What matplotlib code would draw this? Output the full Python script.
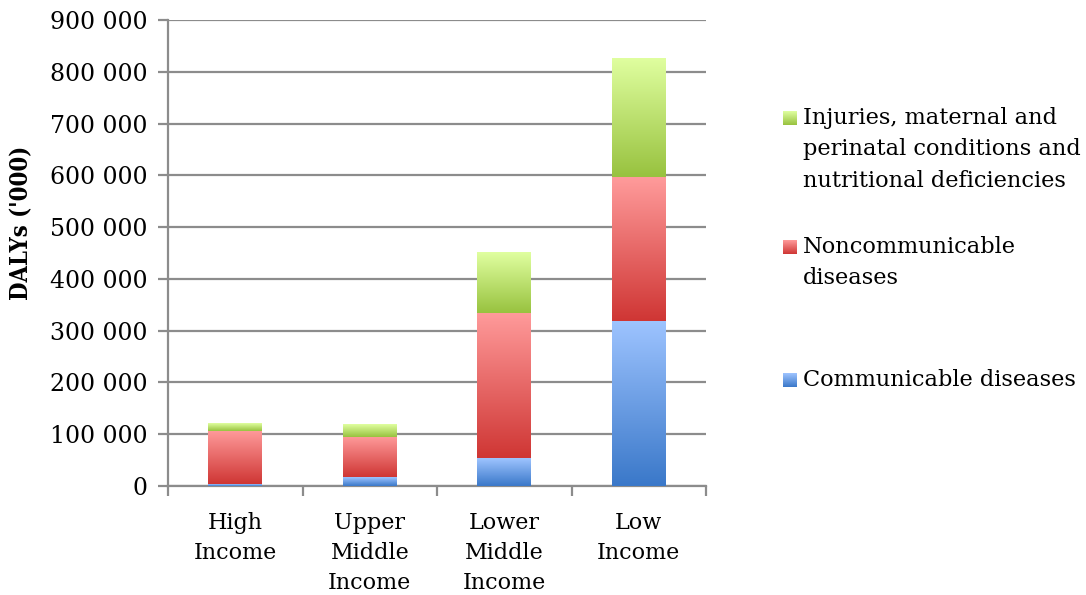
import numpy as np
import matplotlib
matplotlib.use("Agg")
import matplotlib.pyplot as plt
from matplotlib.colors import LinearSegmentedColormap
from matplotlib.ticker import FuncFormatter

# DALYs ('000) by income group
categories = ["High\nIncome", "Upper\nMiddle\nIncome", "Lower\nMiddle\nIncome", "Low\nIncome"]
communicable = [3000, 17000, 54000, 319000]
noncommunicable = [103000, 78000, 281000, 277000]
injuries = [15000, 25000, 116000, 231000]

series_labels = ["Communicable diseases",
                 "Noncommunicable\ndiseases",
                 "Injuries, maternal and\nperinatal conditions and\nnutritional deficiencies"]
# (bottom colour, top colour) of each segment's vertical gradient
gradients = [("#3a78c9", "#9ec4ff"),
             ("#cf3634", "#ff9b9b"),
             ("#98c23f", "#e0ffa0")]

FONT = "DejaVu Serif"
plt.rcParams["font.family"] = FONT

fig = plt.figure(figsize=(10.86, 5.95), dpi=100)
ax = fig.add_axes([168 / 1086, 1 - 486 / 595, (706 - 168) / 1086, (486 - 20) / 595])

x = np.arange(len(categories))
width = 0.4
grid_col = "#8c8c8c"

ax.set_ylim(0, 900000)
ax.set_yticks(np.arange(0, 900001, 100000))
ax.yaxis.set_major_formatter(FuncFormatter(lambda v, p: f"{int(v):,}".replace(",", " ")))
ax.grid(axis="y", color=grid_col, linewidth=1.6, zorder=0)
ax.set_axisbelow(True)

bottom = np.zeros(len(categories))
for vals, (c0, c1) in zip([communicable, noncommunicable, injuries], gradients):
    bars = ax.bar(x, vals, width, bottom=bottom, color="none", edgecolor="none", zorder=2)
    cmap = LinearSegmentedColormap.from_list("g", [c0, c1])
    grad = np.linspace(0, 1, 256).reshape(-1, 1)
    for b in bars:
        x0, y0 = b.get_x(), b.get_y()
        w, h = b.get_width(), b.get_height()
        im = ax.imshow(grad, cmap=cmap, origin="lower", aspect="auto",
                       extent=(x0, x0 + w, y0, y0 + h), zorder=3, interpolation="bilinear")
        im.set_clip_path(b)
    bottom += np.array(vals)
ax.set_xlim(-0.5, len(categories) - 0.5)
ax.set_ylim(0, 900000)

ax.set_xticks(x)
ax.set_xticklabels(categories, fontsize=16, linespacing=1.47)
ax.tick_params(axis="x", length=0, pad=19)
# category boundary ticks below the axis
ax.set_xticks(np.arange(-0.5, len(categories)), minor=True)
ax.tick_params(axis="x", which="minor", length=7, width=1.6, color=grid_col, direction="out")
ax.tick_params(axis="y", length=7, width=1.6, color=grid_col, direction="out",
               labelsize=17, pad=8)

for s in ["top", "right"]:
    ax.spines[s].set_visible(False)
for s in ["left", "bottom"]:
    ax.spines[s].set_color(grid_col)
    ax.spines[s].set_linewidth(1.6)

ax.set_ylabel("DALYs ('000)", fontsize=17, fontweight="bold",
              family="DejaVu Serif", fontstretch="condensed")
ax.yaxis.set_label_coords(-0.251, 0.564)

# legend: gradient swatches with labels, top entry first
legend_items = list(zip(series_labels, gradients))[::-1]
tops = [107, 236, 369]
for (label, (c0, c1)), ty in zip(legend_items, tops):
    fig.text(803 / 1086, 1 - ty / 595, label, fontsize=16.2, va="top", ha="left",
             linespacing=1.55)
    sax = fig.add_axes([783 / 1086, 1 - (ty + 18) / 595, 14 / 1086, 14 / 595])
    sax.imshow(np.linspace(0, 1, 64).reshape(-1, 1), origin="lower", aspect="auto",
               cmap=LinearSegmentedColormap.from_list("s", [c0, c1]))
    sax.axis("off")

fig.savefig("out.png", dpi=100)
